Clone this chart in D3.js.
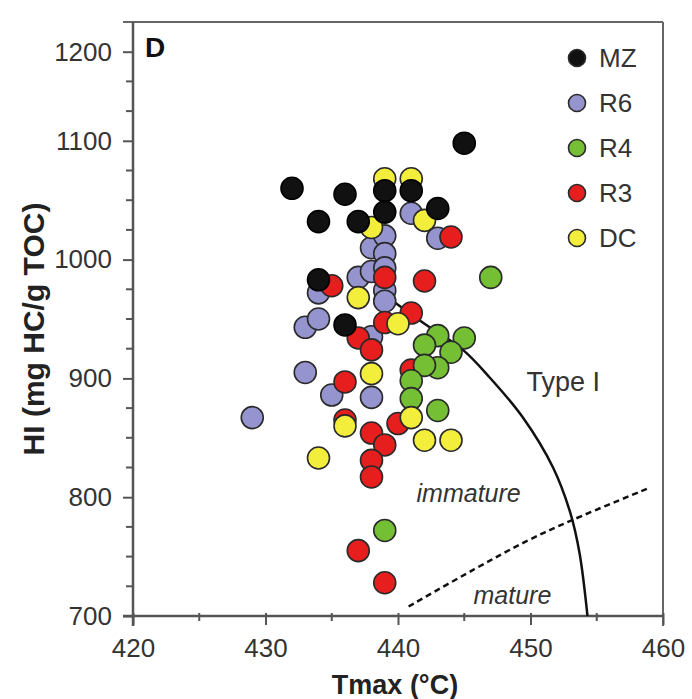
<!DOCTYPE html>
<html>
  <meta charset="utf-8" />
  <head>
    <script src="https://cdnjs.cloudflare.com/ajax/libs/d3/7.8.5/d3.min.js"></script>
    <style>
      body { margin: 0; background: #fff; }
      text { font-family: "Liberation Sans", Arial, sans-serif; }
    </style>
  </head>
  <body>
    <script>
    // series: [Tmax, HI]
    const seriesNames = ["MZ", "R6", "R4", "R3", "DC"];
    const seriesColors = ["#111111", "#9594cf", "#74bf34", "#e61e1e", "#f3ee3c"];

    const mz = [
        [445, 1098], [432, 1060], [436, 1055], [434, 1032], [437, 1032],
        [439, 1058], [439, 1040], [441, 1058], [443, 1043], [434, 983], [436, 945],
    ];
    const r6 = [
        [429, 867], [433, 905], [433, 943], [434, 950], [434, 972], [435, 886],
        [438, 884], [437, 985], [438, 990], [438, 1010], [439, 1020], [439, 1005],
        [439, 993], [439, 974], [439, 965], [438, 935], [441, 1039], [443, 1018],
    ];
    const r4 = [
        [447, 985], [443, 936], [445, 934], [442, 928], [444, 922], [443, 909],
        [442, 911], [441, 898], [441, 883], [443, 873], [439, 772],
    ];
    const r3 = [
        [444, 1019], [442, 982], [439, 985], [435, 978], [441, 955], [439, 947],
        [437, 934], [438, 924], [436, 897], [441, 907], [436, 865], [440, 862],
        [438, 854], [439, 844], [438, 831], [438, 817], [437, 755], [439, 728],
    ];
    const dc = [
        [439, 1068], [441, 1068], [438, 1027], [442, 1033], [437, 968], [440, 946],
        [438, 904], [436, 860], [434, 833], [441, 867], [442, 848], [444, 848],
    ];
    const seriesData = [mz, r6, r4, r3, dc];
    const drawOrder = [1, 3, 2, 4, 0];

    // reference lines
    const typeICurve = [
        [439.5, 966], [442, 946], [444.9, 924], [446.9, 901], [449.4, 867.5],
        [451.7, 825], [453, 787], [453.7, 753], [454.3, 700],
    ];
    const maturityLine = [
        [440.8, 708], [445.7, 739], [449.7, 763], [453.2, 781], [459, 808],
    ];

    const xTicks = [420, 430, 440, 450, 460];
    const xMinor = [425, 435, 445, 455];
    const yTicks = [700, 800, 900, 1000, 1100, 1175];
    const yTickLabels = ["700", "800", "900", "1000", "1100", "1200"];
    const yMinor = [725, 750, 775, 825, 850, 875, 925, 950, 975, 1025, 1050, 1075, 1125, 1150];

    const width = 692, height = 699;
    const plot = { left: 133, right: 663, top: 22, bottom: 616 };

    const svg = d3.select("body").append("svg")
        .attr("width", width)
        .attr("height", height)
        .style("background", "#fff");

    const x = d3.scaleLinear().domain([420, 460]).range([plot.left, plot.right]);
    const y = d3.scaleLinear().domain([700, 1200]).range([plot.bottom, plot.top]);

    const axisColor = "#555";
    const labelColor = "#333";

    // frame (top + right)
    svg.append("line")
        .attr("x1", plot.left - 10).attr("x2", plot.right)
        .attr("y1", plot.top).attr("y2", plot.top)
        .attr("stroke", "#666").attr("stroke-width", 2);
    svg.append("line")
        .attr("x1", plot.right).attr("x2", plot.right)
        .attr("y1", plot.top).attr("y2", plot.bottom + 10)
        .attr("stroke", "#666").attr("stroke-width", 2);

    // x axis
    const xAxis = d3.axisBottom(x).tickValues(xTicks).tickSize(9).tickPadding(14)
        .tickFormat(d3.format("d"));
    const gx = svg.append("g").attr("transform", `translate(0,${plot.bottom})`).call(xAxis);
    gx.select(".domain").remove();
    gx.append("line").attr("x1", plot.left - 10).attr("x2", plot.right)
        .attr("stroke", axisColor).attr("stroke-width", 2.5);
    gx.selectAll(".tick line").attr("stroke", axisColor).attr("stroke-width", 2)
        .attr("y1", -3);
    gx.selectAll(".tick text").attr("fill", labelColor).attr("font-size", 26)
        .attr("font-family", "Liberation Sans, Arial, sans-serif");
    gx.selectAll(".minor").data(xMinor).enter().append("line")
        .attr("x1", d => x(d)).attr("x2", d => x(d))
        .attr("y1", -3).attr("y2", 5)
        .attr("stroke", axisColor).attr("stroke-width", 2);

    // y axis
    const yAxis = d3.axisLeft(y).tickValues(yTicks).tickSize(10).tickPadding(11)
        .tickFormat((d, i) => yTickLabels[i]);
    const gy = svg.append("g").attr("transform", `translate(${plot.left},0)`).call(yAxis);
    gy.select(".domain").remove();
    gy.append("line").attr("y1", plot.top).attr("y2", plot.bottom + 10)
        .attr("stroke", axisColor).attr("stroke-width", 2.5);
    gy.selectAll(".tick line").attr("stroke", axisColor).attr("stroke-width", 2);
    gy.selectAll(".tick text").attr("fill", labelColor).attr("font-size", 26)
        .attr("font-family", "Liberation Sans, Arial, sans-serif");
    gy.selectAll(".minor").data(yMinor).enter().append("line")
        .attr("y1", d => y(d)).attr("y2", d => y(d))
        .attr("x1", -7).attr("x2", 0)
        .attr("stroke", axisColor).attr("stroke-width", 2);

    // axis titles
    svg.append("text")
        .attr("x", 395)
        .attr("y", 694)
        .attr("text-anchor", "middle")
        .attr("font-size", 27).attr("font-weight", "bold").attr("fill", "#222")
        .text("Tmax (°C)");
    svg.append("text")
        .attr("transform", `translate(44,329) rotate(-90)`)
        .attr("text-anchor", "middle")
        .attr("font-size", 30).attr("font-weight", "bold").attr("fill", "#222")
        .text("HI (mg HC/g TOC)");

    // panel letter
    svg.append("text")
        .attr("x", plot.left + 12).attr("y", 57)
        .attr("font-size", 28).attr("font-weight", "bold").attr("fill", "#111")
        .text("D");

    // lines
    const line = d3.line().x(d => x(d[0])).y(d => y(d[1])).curve(d3.curveCatmullRom);
    svg.append("path").datum(typeICurve)
        .attr("d", line).attr("fill", "none")
        .attr("stroke", "#111").attr("stroke-width", 2.5);
    svg.append("path").datum(maturityLine)
        .attr("d", line).attr("fill", "none")
        .attr("stroke", "#111").attr("stroke-width", 2.5)
        .attr("stroke-dasharray", "6,4");

    // annotations
    svg.append("text")
        .attr("x", x(449.7)).attr("y", y(889))
        .attr("font-size", 27).attr("fill", labelColor)
        .text("Type I");
    svg.append("text")
        .attr("x", x(441.4)).attr("y", y(796))
        .attr("font-size", 25).attr("font-style", "italic").attr("fill", labelColor)
        .text("immature");
    svg.append("text")
        .attr("x", x(445.7)).attr("y", y(710))
        .attr("font-size", 25).attr("font-style", "italic").attr("fill", labelColor)
        .text("mature");

    // points
    drawOrder.forEach(s => {
        svg.append("g").selectAll("circle")
            .data(seriesData[s]).enter().append("circle")
            .attr("cx", d => x(d[0]))
            .attr("cy", d => y(d[1]))
            .attr("r", 11)
            .attr("fill", seriesColors[s])
            .attr("stroke", s === 0 ? "#000" : "#2a2a2a")
            .attr("stroke-width", 1.6);
    });

    // legend
    const legend = svg.append("g").attr("transform", "translate(577,58)");
    const items = legend.selectAll("g").data(seriesNames).enter().append("g")
        .attr("transform", (d, i) => `translate(0,${i * 45})`);
    items.append("circle").attr("r", 8.5)
        .attr("fill", (d, i) => seriesColors[i])
        .attr("stroke", "#2a2a2a").attr("stroke-width", 1.6);
    items.append("text").attr("x", 22).attr("y", 9)
        .attr("font-size", 26).attr("fill", labelColor)
        .text(d => d);
    </script>
  </body>
</html>
